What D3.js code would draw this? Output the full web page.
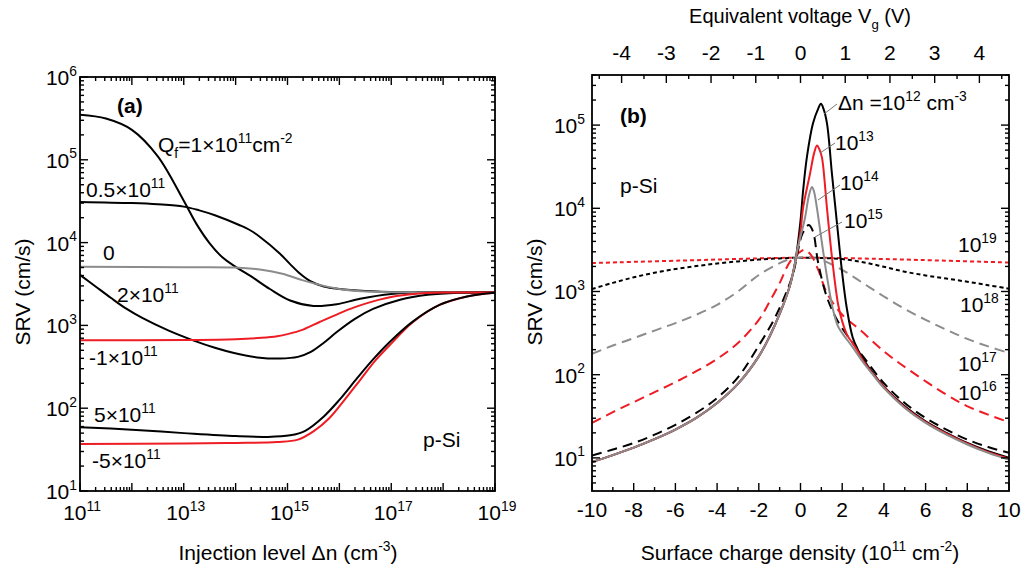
<!DOCTYPE html>
<html><head><meta charset="utf-8">
<script src="https://cdn.jsdelivr.net/npm/d3@7"></script>
<style>
html,body{margin:0;padding:0;background:#fff;}
svg text{font-family:"Liberation Sans",Arial,sans-serif;fill:#000;}
</style></head><body>
<svg id="chart" width="1033" height="567"></svg>
<script>
// ---------- Panel (a): SRV vs injection level, [log10(Δn), SRV] ----------
const qfPos1 = [[11,3.5e5],[11.5,3.15e5],[12,2.3e5],[12.5,1.1e5],[13,3.2e4],[13.25,1.66e4],[13.5,9.8e3],[13.75,6.6e3],[14,5.1e3],[14.3,3.9e3],[14.66,2.75e3],[15.05,2.0e3],[15.5,1.72e3],[15.95,1.8e3],[16.4,2.1e3],[17,2.4e3],[17.6,2.5e3],[19,2.5e3]];
const qfPos05 = [[11,3.1e4],[12,3.0e4],[12.5,2.9e4],[13,2.72e4],[13.3,2.45e4],[13.6,2.14e4],[14.08,1.62e4],[14.28,1.41e4],[14.47,1.17e4],[14.85,7.4e3],[15.05,5.5e3],[15.25,4.17e3],[15.45,3.39e3],[15.7,2.95e3],[16,2.75e3],[16.5,2.6e3],[17.2,2.52e3],[19,2.5e3]];
const qfZero = [[11,5.1e3],[13,5.05e3],[14,5.0e3],[14.5,4.7e3],[14.9,4.2e3],[15.3,3.5e3],[15.7,3.0e3],[16.1,2.7e3],[16.7,2.55e3],[19,2.5e3]];
const qfPos2 = [[11,4070],[11.3,2950],[11.6,2140],[11.9,1580],[12.2,1230],[12.7,870],[13.18,660],[13.6,537],[13.95,468],[14.47,407],[14.85,398],[15.2,417],[15.45,479],[15.7,617],[15.95,832],[16.3,1200],[16.65,1580],[17.17,2040],[17.7,2340],[18.3,2480],[19,2500]];
const qfNeg1 = [[11,660],[13,665],[14,680],[14.5,708],[14.8,741],[15,785],[15.3,890],[15.62,1100],[16,1400],[16.3,1660],[16.65,1950],[17.1,2260],[17.6,2450],[18.2,2500],[19,2500]];
const qfPos5 = [[11,59],[12,55],[13,50],[14,46],[14.6,45],[15.05,47],[15.35,53.7],[15.7,79.4],[16,126],[16.35,234],[16.65,389],[16.97,631],[17.42,1120],[17.94,1780],[18.46,2240],[19,2480]];
const qfNeg5 = [[11,37],[13,37.5],[14,38],[14.8,39],[15.2,41.7],[15.5,52.5],[15.8,75],[16.1,126],[16.4,219],[16.7,380],[17,603],[17.42,1100],[17.94,1780],[18.46,2240],[19,2480]];

// ---------- Panel (b): SRV vs surface charge, [Q (1e11 cm^-2), SRV] ----------
const dn12 = [[-10,8.9],[-9,10.8],[-8,13.3],[-7,16.8],[-6,21.9],[-5,30.2],[-4,45.7],[-3,77.6],[-2,166],[-1.5,282],[-1,537],[-0.5,1200],[-0.25,2290],[0,7080],[0.12,1.58e4],[0.31,4.17e4],[0.6,1.05e5],[0.85,1.58e5],[0.98,1.8e5],[1.1,1.58e5],[1.27,1.05e5],[1.51,2.57e4],[1.75,6600],[2.0,1660],[2.22,631],[2.5,282],[2.75,200],[3,155],[3.5,102],[4,72],[5,41.7],[6,27.5],[7,20],[8,15.1],[9,12],[10,10]];
const dn13 = [[-10,8.9],[-9,10.8],[-8,13.3],[-7,16.8],[-6,21.9],[-5,30.2],[-4,45.7],[-3,77.6],[-2,166],[-1.5,282],[-1,537],[-0.5,1200],[-0.25,2290],[0,5250],[0.12,1e4],[0.46,2.63e4],[0.65,4.57e4],[0.79,5.7e4],[0.92,5.0e4],[1.03,4.07e4],[1.27,1e4],[1.51,2570],[1.8,708],[2.0,437],[2.25,295],[2.5,240],[2.75,190],[3,148],[3.5,100],[4,71],[5,40.7],[6,26.9],[7,19.5],[8,14.8],[9,11.7],[10,9.8]];
const dn14 = [[-10,8.9],[-9,10.8],[-8,13.3],[-7,16.8],[-6,21.9],[-5,30.2],[-4,45.7],[-3,77.6],[-2,166],[-1.5,282],[-1,537],[-0.5,1200],[-0.25,2290],[-0.17,3020],[0.22,7760],[0.4,1.41e4],[0.55,1.8e4],[0.65,1.58e4],[0.79,1e4],[1.03,3800],[1.27,1510],[1.56,603],[1.8,380],[2.0,316],[2.5,214],[3,141],[3.5,98],[4,69],[5,39.8],[6,26.3],[7,19],[8,14.5],[9,11.5],[10,9.5]];
const dn15 = [[-10,10.7],[-9,12.6],[-8,15.1],[-7,19],[-6,25],[-5,34.7],[-4,52.5],[-3,93],[-2,224],[-1.2,500],[-0.4,1510],[0.1,5000],[0.4,6300],[0.6,5250],[0.85,2190],[1.27,850],[1.75,457],[2.3,282],[3,166],[4,79],[5,45.7],[6,30.2],[7,21.9],[8,16.6],[9,13.5],[10,11.5]];
const dn16 = [[-10,26.3],[-9,35.5],[-8,46.8],[-7,61.7],[-6,81.3],[-5,110],[-4,155],[-3,240],[-2,457],[-1.5,741],[-1,1260],[-0.5,2290],[0,3020],[0.2,3160],[0.5,2750],[0.85,1820],[1.27,955],[2,525],[2.85,347],[4.1,182],[5.25,112],[7,57.5],[8.1,40.7],[10,26.9]];
const dn17 = [[-10,178],[-9,224],[-8,275],[-7,339],[-6,417],[-5,525],[-4,692],[-3,1000],[-2,1580],[-1,2190],[-0.5,2450],[0,2570],[0.5,2570],[1,2400],[2,1820],[3,1260],[4,871],[5,617],[6,457],[7,347],[8,269],[9,219],[10,182]];
const dn18 = [[-10,1070],[-9,1270],[-8,1480],[-7,1680],[-6,1860],[-5,2020],[-4,2170],[-3,2300],[-2,2420],[-1,2500],[0,2550],[1,2530],[2,2450],[3,2250],[4,1980],[5,1730],[6,1560],[7,1430],[8,1310],[9,1190],[10,1080]];
const dn19 = [[-10,2200],[-5,2380],[-2,2500],[0,2550],[2,2520],[5,2420],[10,2230]];

// tick label values
const aXExps = [11,13,15,17,19];
const aYExps = [1,2,3,4,5,6];
const bXTicks = [-10,-8,-6,-4,-2,0,2,4,6,8,10];
const bYExps = [1,2,3,4,5];
const bVTicks = [-4,-3,-2,-1,0,1,2,3,4];

const RED = "#ee1c24", GRAY = "#8c8c8c", BLACK = "#000";
const svg = d3.select("#chart");
const FS = 21;
const smooth = d3.curveCatmullRom.alpha(0.5);

// text with superscript / subscript runs: parts = [[str, kind]]
function rich(parent, x, y, parts, opt = {}) {
  const size = opt.size || FS;
  const t = parent.append("text").attr("x", x).attr("y", y)
    .attr("font-size", size).attr("text-anchor", opt.anchor || "start");
  if (opt.weight) t.attr("font-weight", opt.weight);
  if (opt.transform) t.attr("transform", opt.transform);
  let shift = 0;
  parts.forEach(([s, k]) => {
    let target = 0, fs = size;
    if (k === "sup") { target = -0.45 * size; fs = 0.66 * size; }
    if (k === "sub") { target = 0.3 * size; fs = 0.66 * size; }
    t.append("tspan").attr("dy", target - shift).attr("font-size", fs).text(s);
    shift = target;
  });
  return t;
}

function frame(g, x0, x1, y0, y1) {
  g.append("rect").attr("x", x0).attr("y", y0).attr("width", x1 - x0).attr("height", y1 - y0)
    .attr("fill", "none").attr("stroke", "#000").attr("stroke-width", 1.8);
}

// inward ticks
function vTicks(g, xs, y, len, dir) {
  xs.forEach(x => g.append("line").attr("x1", x).attr("x2", x).attr("y1", y).attr("y2", y + dir * len)
    .attr("stroke", "#000").attr("stroke-width", 1.4));
}
function hTicks(g, ys, x, len, dir) {
  ys.forEach(y => g.append("line").attr("y1", y).attr("y2", y).attr("x1", x).attr("x2", x + dir * len)
    .attr("stroke", "#000").attr("stroke-width", 1.4));
}

// ================= Panel (a) =================
const xA = d3.scaleLog().domain([1e11, 1e19]).range([80, 495]);
const yA = d3.scaleLog().domain([10, 1e6]).range([491, 77]);
const gA = svg.append("g");
gA.append("clipPath").attr("id", "clipA").append("rect")
  .attr("x", 80).attr("y", 77).attr("width", 415).attr("height", 414);

const lineA = d3.line().x(d => xA(Math.pow(10, d[0]))).y(d => yA(d[1])).curve(smooth);
const curvesA = [
  [qfPos1, BLACK], [qfPos05, BLACK], [qfZero, GRAY], [qfPos2, BLACK],
  [qfNeg1, RED], [qfNeg5, RED], [qfPos5, BLACK]
];
const cA = gA.append("g").attr("clip-path", "url(#clipA)");
curvesA.forEach(([d, c]) => cA.append("path").attr("d", lineA(d)).attr("fill", "none")
  .attr("stroke", c).attr("stroke-width", 2));

// ticks (a)
const aMajX = d3.range(11, 20).map(e => xA(Math.pow(10, e)));
const aMinX = [];
d3.range(11, 19).forEach(e => d3.range(2, 10).forEach(m => aMinX.push(xA(m * Math.pow(10, e)))));
vTicks(gA, aMajX, 491, 8, -1); vTicks(gA, aMinX, 491, 4, -1);
vTicks(gA, aMajX, 77, 8, 1); vTicks(gA, aMinX, 77, 4, 1);
const aMajY = d3.range(1, 7).map(e => yA(Math.pow(10, e)));
const aMinY = [];
d3.range(1, 6).forEach(e => d3.range(2, 10).forEach(m => aMinY.push(yA(m * Math.pow(10, e)))));
hTicks(gA, aMajY, 80, 8, 1); hTicks(gA, aMinY, 80, 4, 1);
hTicks(gA, aMajY, 495, 8, -1); hTicks(gA, aMinY, 495, 4, -1);
frame(gA, 80, 495, 77, 491);

aXExps.forEach(e => rich(gA, xA(Math.pow(10, e)) + 2, 520, [["10"], [String(e), "sup"]], { anchor: "middle" }));
aYExps.forEach(e => rich(gA, 77, yA(Math.pow(10, e)) + 8, [["10"], [String(e), "sup"]], { anchor: "end" }));

rich(gA, 288, 560, [["Injection level \u0394n (cm"], ["-3", "sup"], [")"]], { anchor: "middle" });
rich(gA, 0, 0, [["SRV (cm/s)"]], { anchor: "middle", transform: "translate(30,292) rotate(-90)" });

rich(gA, 117, 113, [["(a)"]], { weight: "bold", size: 21 });
rich(gA, 158, 152, [["Q"], ["f", "sub"], ["=1\u00d710"], ["11", "sup"], ["cm"], ["-2", "sup"]]);
rich(gA, 86, 197, [["0.5\u00d710"], ["11", "sup"]]);
rich(gA, 103, 260, [["0"]]);
rich(gA, 117, 302, [["2\u00d710"], ["11", "sup"]]);
rich(gA, 89, 365, [["-1\u00d710"], ["11", "sup"]]);
rich(gA, 94, 422, [["5\u00d710"], ["11", "sup"]]);
rich(gA, 92, 468, [["-5\u00d710"], ["11", "sup"]]);
rich(gA, 423, 447, [["p-Si"]]);

// ================= Panel (b) =================
const xB = d3.scaleLinear().domain([-10, 10]).range([592, 1009]);
const yB = d3.scaleLog().domain([4, 4e5]).range([491, 75]);
const xV = d3.scaleLinear().domain([-10 / 2.145, 10 / 2.145]).range([592, 1009]);
const gB = svg.append("g");
gB.append("clipPath").attr("id", "clipB").append("rect")
  .attr("x", 592).attr("y", 75).attr("width", 417).attr("height", 416);

const lineB = d3.line().x(d => xB(d[0])).y(d => yB(d[1])).curve(smooth);
const curvesB = [
  [dn19, RED, "4,3"], [dn18, BLACK, "4,3"], [dn17, GRAY, "10,6"], [dn16, RED, "10,6"],
  [dn15, BLACK, "10,6"], [dn12, BLACK, null], [dn13, RED, null], [dn14, GRAY, null]
];
const cB = gB.append("g").attr("clip-path", "url(#clipB)");
curvesB.forEach(([d, c, dash]) => {
  const p = cB.append("path").attr("d", lineB(d)).attr("fill", "none")
    .attr("stroke", c).attr("stroke-width", 2);
  if (dash) p.attr("stroke-dasharray", dash);
});

// ticks (b)
vTicks(gB, d3.range(-10, 11, 2).map(xB), 491, 8, -1);
vTicks(gB, d3.range(-9, 10, 2).map(xB), 491, 4, -1);
vTicks(gB, bVTicks.map(xV), 75, 8, 1);
vTicks(gB, d3.range(-4.5, 5, 1).map(xV), 75, 4, 1);
const bMajY = d3.range(1, 6).map(e => yB(Math.pow(10, e)));
const bMinY = [];
[[0, [5, 6, 7, 8, 9]], [1, d3.range(2, 10)], [2, d3.range(2, 10)], [3, d3.range(2, 10)], [4, d3.range(2, 10)], [5, [2, 3, 4]]]
  .forEach(([e, ms]) => ms.forEach(m => bMinY.push(yB(m * Math.pow(10, e)))));
hTicks(gB, bMajY, 592, 8, 1); hTicks(gB, bMinY, 592, 4, 1);
hTicks(gB, bMajY, 1009, 8, -1); hTicks(gB, bMinY, 1009, 4, -1);
frame(gB, 592, 1009, 75, 491);

bXTicks.forEach(v => gB.append("text").attr("x", xB(v)).attr("y", 517).attr("font-size", FS)
  .attr("text-anchor", "middle").text(v));
bVTicks.forEach(v => gB.append("text").attr("x", xV(v)).attr("y", 60).attr("font-size", FS)
  .attr("text-anchor", "middle").text(v));
bYExps.forEach(e => rich(gB, 585, yB(Math.pow(10, e)) + 8, [["10"], [String(e), "sup"]], { anchor: "end" }));

rich(gB, 800, 560, [["Surface charge density (10"], ["11", "sup"], [" cm"], ["-2", "sup"], [")"]], { anchor: "middle" });
rich(gB, 800, 23, [["Equivalent voltage V"], ["g", "sub"], [" (V)"]], { anchor: "middle", size: 20 });
rich(gB, 0, 0, [["SRV (cm/s)"]], { anchor: "middle", transform: "translate(542,292) rotate(-90)" });

rich(gB, 620, 123, [["(b)"]], { weight: "bold", size: 21 });
rich(gB, 620, 193, [["p-Si"]]);

// leader lines from labels to peaks
const leaders = [[837, 104, 824, 114], [835, 143, 820, 153], [840, 185, 818, 200], [842, 222, 815, 237]];
leaders.forEach(([x1, y1, x2, y2]) => gB.append("line").attr("x1", x1).attr("y1", y1)
  .attr("x2", x2).attr("y2", y2).attr("stroke", "#777").attr("stroke-width", 1));

rich(gB, 838, 110, [["\u0394n =10"], ["12", "sup"], [" cm"], ["-3", "sup"]]);
rich(gB, 835, 150, [["10"], ["13", "sup"]]);
rich(gB, 840, 190, [["10"], ["14", "sup"]]);
rich(gB, 844, 228, [["10"], ["15", "sup"]]);
rich(gB, 958, 252, [["10"], ["19", "sup"]]);
rich(gB, 960, 312, [["10"], ["18", "sup"]]);
rich(gB, 958, 371, [["10"], ["17", "sup"]]);
rich(gB, 958, 400, [["10"], ["16", "sup"]]);
</script></body></html>
